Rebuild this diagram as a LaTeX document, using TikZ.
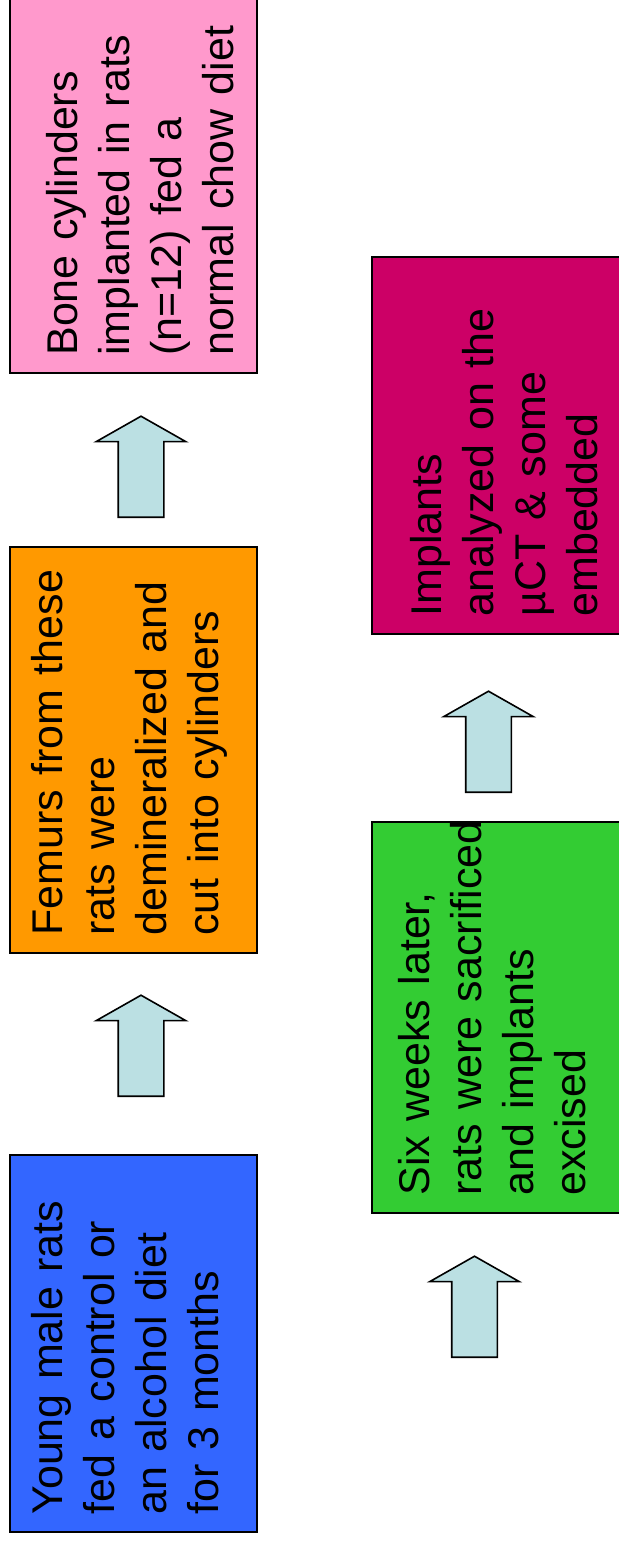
\documentclass[tikz,border=0pt]{standalone}
\usepackage{fontspec}
\setmainfont{Liberation Sans}
\usetikzlibrary{shapes.arrows}

\definecolor{stepblue}{HTML}{3366FF}
\definecolor{steporange}{HTML}{FF9900}
\definecolor{steppink}{HTML}{FF99CC}
\definecolor{stepgreen}{HTML}{33CC33}
\definecolor{stepmagenta}{HTML}{CC0066}
\definecolor{arrowblue}{HTML}{BBE0E3}

\tikzset{
  stepbox/.style={draw=black, line width=1pt, inner sep=0pt, minimum width=123.5pt},
  steptext/.style={rotate=90, anchor=north west, inner sep=0pt, align=left, text width=200pt,
    font=\fontsize{21.5pt}{26pt}\selectfont},
  uparrow/.style={single arrow, draw=black, line width=0.8pt, fill=arrowblue, rotate=90,
    inner xsep=0pt, inner ysep=11pt, anchor=tail, minimum height=50.5pt,
    single arrow head extend=11pt, single arrow tip angle=120.8}
}

\begin{document}
\begin{tikzpicture}[x=0.5pt,y=-0.5pt]
  \useasboundingbox (0,0) rectangle (618,1543);
  % left column
  \node[stepbox, fill=stepblue, minimum height=188.5pt] (young) at (133.5,1343.5) {};
  \node[stepbox, fill=steporange, minimum height=203pt] (femurs) at (133.5,750) {};
  \node[stepbox, fill=steppink, minimum height=191.5pt] (bone) at (133.5,181.5) {};
  % right column
  \node[stepbox, fill=stepgreen, minimum width=126.5pt, minimum height=195.5pt] (sixweeks) at (498.5,1017.5) {};
  \node[stepbox, fill=stepmagenta, minimum width=126.5pt, minimum height=188.5pt] (implants) at (498.5,445.5) {};

  \node[steptext] (young-t) at ([xshift=11pt,yshift=9pt]young.south west)
    {Young male rats\\fed a control or\\an alcohol diet\\for 3 months};
  \node[steptext] (femurs-t) at ([xshift=11pt,yshift=9pt]femurs.south west)
    {Femurs from these\\rats were\\demineralized and\\cut into cylinders};
  \node[steptext] (bone-t) at ([xshift=18.5pt,yshift=9pt]bone.south west)
    {Bone cylinders\\implanted in rats\\(n=12) fed a\\normal chow diet};
  \node[steptext] (sixweeks-t) at ([xshift=13.5pt,yshift=9pt]sixweeks.south west)
    {Six weeks later,\\rats were sacrificed\\and implants\\excised};
  \node[steptext] (implants-t) at ([xshift=19.5pt,yshift=9pt]implants.south west)
    {Implants\\analyzed on the\\µCT \& some\\embedded};

  % arrows
  \node[uparrow] (up1) at (141,1097) {};
  \node[uparrow] (up2) at (141,518) {};
  \node[uparrow] (up3) at (474.5,1358) {};
  \node[uparrow] (up4) at (488.5,793) {};
\end{tikzpicture}
\end{document}
